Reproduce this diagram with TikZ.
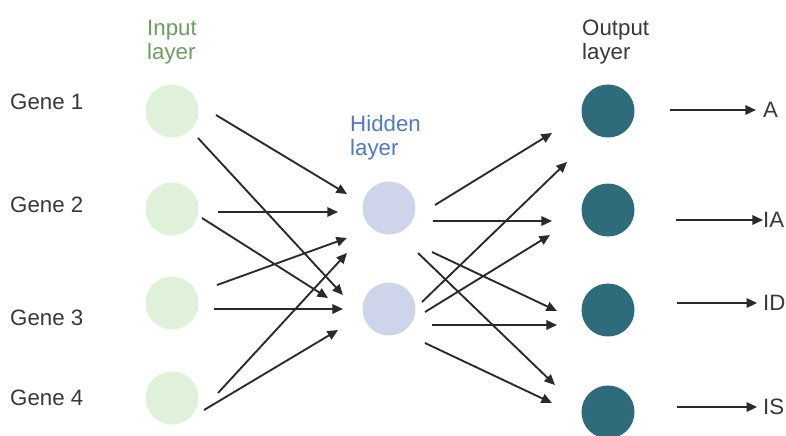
\documentclass[tikz,border=0pt]{standalone}
\usepackage{fontspec}
\setmainfont{Liberation Sans}
\usetikzlibrary{arrows.meta}
\definecolor{inpfill}{HTML}{DFF2D9}
\definecolor{hidfill}{HTML}{CED4E9}
\definecolor{outfill}{HTML}{2F6C7B}
\definecolor{inptext}{HTML}{6A9E5E}
\definecolor{hidtext}{HTML}{4F79C6}
\definecolor{txt}{HTML}{383838}
\definecolor{wire}{HTML}{2A2A2A}
\begin{document}
\begin{tikzpicture}[x=0.03cm, y=-0.03cm,
    every node/.style={font=\fontsize{19}{20.5}\selectfont, text=txt, inner sep=0pt},
    neuron/.style={circle, minimum size=53*0.03cm},
    inp/.style={neuron, fill=inpfill},
    hid/.style={neuron, fill=hidfill},
    outp/.style={neuron, fill=outfill},
    conn/.style={draw=wire, line width=1.6pt, -{Triangle[length=9pt,width=8pt]}}]
  \useasboundingbox (0,0) rectangle (786,435);
  \clip (0,0) rectangle (786,435);

  \node[anchor=west, align=left, text=inptext] (tinp) at (147,42) {Input\\layer};
  \node[anchor=west, align=left, text=hidtext] (thid) at (350,138) {Hidden\\layer};
  \node[anchor=west, align=left] (tout) at (582,42) {Output\\layer};

  \foreach \i/\y/\ly in {1/111/102, 2/209/205, 3/303/318, 4/398/398} {
    \node[inp] (g\i) at (172,\y) {};
    \node[anchor=west] (gl\i) at (10,\ly) {Gene \i};
  }
  \node[hid] (h1) at (389,208) {};
  \node[hid] (h2) at (389,309) {};
  \foreach \i/\y in {1/111, 2/210, 3/310, 4/412}
    \node[outp] (o\i) at (608,\y) {};

  \foreach \a/\ax/\ay/\b/\bx/\by in {
      g1/44/4/h1/-42/-14, g1/26/27/h2/-46/-14,
      g2/46/3/h1/-51/4, g2/30/9/h2/-61/-11,
      g3/45/-18/h1/-42/30, g3/42/6/h2/-46/0,
      g4/46/-5/h1/-42/45, g4/32/12/h2/-51/21,
      h1/46/-3/o1/-56/22, h2/33/-7/o1/-41/51,
      h1/44/13/o2/-56/11, h2/36/3/o2/-58/25,
      h1/43/44/o3/-51/1, h1/29/45/o4/-53/-27,
      h2/43/16/o3/-51/15, h2/36/34/o4/-56/-9}
    \draw[conn] ([shift={(\ax,\ay)}]\a.center) -- ([shift={(\bx,\by)}]\b.center);

  \node[anchor=west] (la) at (763,110) {A};
  \node[anchor=west] (lia) at (763,220) {IA};
  \node[anchor=west] (lid) at (763,303) {ID};
  \node[anchor=west] (lis) at (763,407) {IS};

  \draw[conn] ([shift={(62,-1)}]o1.center) -- ([xshift=-6]la.west);
  \draw[conn] ([shift={(68,10)}]o2.center) -- (lia.west);
  \draw[conn] ([shift={(69,-7)}]o3.center) -- ([xshift=-5]lid.west);
  \draw[conn] ([shift={(69,-5)}]o4.center) -- ([xshift=-5]lis.west);
\end{tikzpicture}
\end{document}
